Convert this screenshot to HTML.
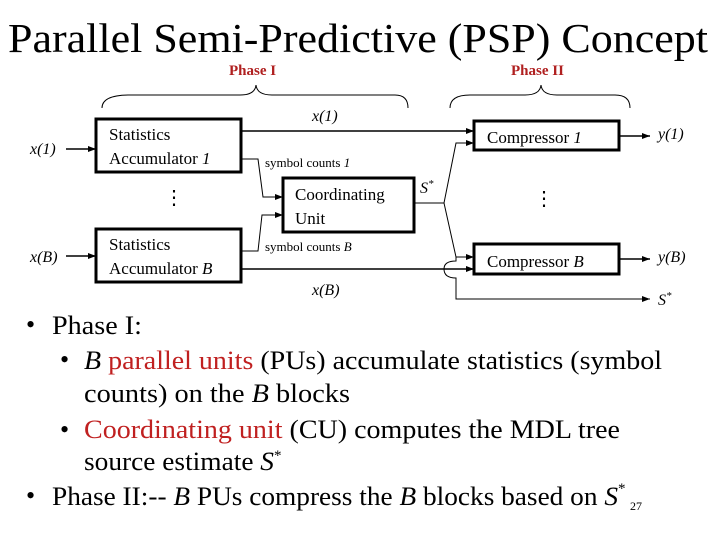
<!DOCTYPE html>
<html><head><meta charset="utf-8"><style>
html,body{margin:0;padding:0;background:#fff;}
svg{display:block;}
svg text{font-family:"Liberation Serif","Times New Roman",Times,serif;}
</style></head><body>
<svg width="720" height="540" viewBox="0 0 720 540" xmlns="http://www.w3.org/2000/svg" font-family="Liberation Serif, Times New Roman, serif">
<defs><marker id="a" markerWidth="8" markerHeight="6" refX="8" refY="3" orient="auto" markerUnits="userSpaceOnUse"><path d="M0,0 L8,3 L0,6z" fill="#000"/></marker></defs>
<text x="8" y="52" font-size="41" textLength="700" lengthAdjust="spacingAndGlyphs">Parallel Semi-Predictive (PSP) Concept</text>
<text x="229" y="75" font-size="15" font-weight="bold" fill="#b02020">Phase I</text>
<text x="511" y="75" font-size="15" font-weight="bold" fill="#b02020">Phase II</text>
<path d="M102,108 Q102,95 130,95 L240,95 Q255,95 256,85 Q257,95 272,95 L395,95 Q408,95 408,108" fill="none" stroke="#000" stroke-width="1"/>
<path d="M450,108 Q450,95 470,95 L525,95 Q540,95 541,85 Q542,95 557,95 L615,95 Q630,95 630,108" fill="none" stroke="#000" stroke-width="1"/>
<g fill="none" stroke="#000" stroke-width="3">
<rect x="96" y="119" width="145" height="53"/>
<rect x="96" y="229" width="145" height="53"/>
<rect x="283" y="178" width="131" height="54"/>
<rect x="474" y="121" width="145" height="29"/>
<rect x="474" y="244" width="145" height="30"/>
</g>
<g fill="none" stroke="#000" stroke-width="1.5">
<line x1="66" y1="149" x2="96" y2="149" marker-end="url(#a)"/>
<line x1="66" y1="256" x2="96" y2="256" marker-end="url(#a)"/>
<line x1="241" y1="131" x2="474" y2="131" marker-end="url(#a)"/>
<path d="M241,159 L258,159 L263,197 L283,197" stroke-width="1" marker-end="url(#a)"/>
<path d="M241,251 L258,251 L262,215 L283,215" stroke-width="1" marker-end="url(#a)"/>
<path d="M414,203 L444,203 L456,143 L474,143" stroke-width="1" marker-end="url(#a)"/>
<path d="M444,203 L456,257 L474,257" stroke-width="1" marker-end="url(#a)"/>
<line x1="241" y1="269" x2="474" y2="269" marker-end="url(#a)"/>
<path d="M456,257 L456,261 Q444,261 444,269 Q444,278 456,278 L456,299 L650,299" stroke-width="1" marker-end="url(#a)"/>
<line x1="619" y1="136" x2="650" y2="136" marker-end="url(#a)"/>
<line x1="619" y1="259" x2="650" y2="259" marker-end="url(#a)"/>
</g>
<g font-size="17">
<text x="109" y="140">Statistics</text>
<text x="109" y="164">Accumulator <tspan font-style="italic">1</tspan></text>
<text x="109" y="250">Statistics</text>
<text x="109" y="274">Accumulator <tspan font-style="italic">B</tspan></text>
<text x="295" y="200">Coordinating</text>
<text x="295" y="224">Unit</text>
<text x="487" y="143">Compressor <tspan font-style="italic">1</tspan></text>
<text x="487" y="267">Compressor <tspan font-style="italic">B</tspan></text>
</g>
<g font-size="16" font-style="italic">
<text x="30" y="154">x(1)</text>
<text x="30" y="262">x(B)</text>
<text x="312" y="121">x(1)</text>
<text x="312" y="295">x(B)</text>
<text x="658" y="139">y(1)</text>
<text x="658" y="262">y(B)</text>
<text x="420" y="193">S<tspan font-size="11" dy="-6">*</tspan></text>
<text x="658" y="305">S<tspan font-size="11" dy="-6">*</tspan></text>
</g>
<text x="265" y="167" font-size="13">symbol counts <tspan font-style="italic">1</tspan></text>
<text x="265" y="251" font-size="13">symbol counts <tspan font-style="italic">B</tspan></text>
<g font-size="20"><text x="164" y="204">⋮</text><text x="534" y="205">⋮</text></g>
<g font-size="26">
<text x="26" y="333">•</text>
<text x="52" y="334" textLength="90" lengthAdjust="spacingAndGlyphs">Phase I:</text>
<text x="60" y="368">•</text>
<text x="84" y="369" textLength="578" lengthAdjust="spacingAndGlyphs"><tspan font-style="italic">B</tspan> <tspan fill="#c02020">parallel units</tspan> (PUs) accumulate statistics (symbol</text>
<text x="84" y="402" textLength="266" lengthAdjust="spacingAndGlyphs">counts) on the <tspan font-style="italic">B</tspan> blocks</text>
<text x="60" y="438">•</text>
<text x="84" y="438" textLength="536" lengthAdjust="spacingAndGlyphs"><tspan fill="#c02020">Coordinating unit</tspan> (CU) computes the MDL tree</text>
<text x="84" y="470" textLength="190" lengthAdjust="spacingAndGlyphs">source estimate <tspan font-style="italic">S</tspan></text>
<text x="274" y="460" font-size="15">*</text>
<text x="26" y="504">•</text>
<text x="52" y="505" textLength="566" lengthAdjust="spacingAndGlyphs">Phase II:-- <tspan font-style="italic">B</tspan> PUs compress the <tspan font-style="italic">B</tspan> blocks based on <tspan font-style="italic">S</tspan></text>
<text x="618" y="493" font-size="15">*</text>
<text x="630" y="510" font-size="12">27</text>
</g>
</svg>
</body></html>
